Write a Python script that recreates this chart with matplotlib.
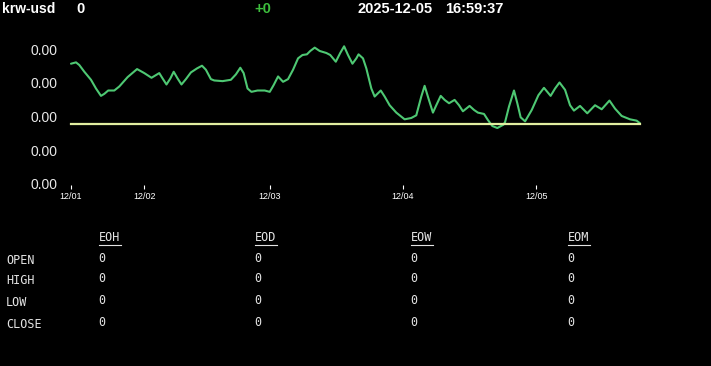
import matplotlib.pyplot as plt
from matplotlib.lines import Line2D

# price history: hours since 12/01 00:00 and krw-usd price (x 1e-6)
hours = [10.8, 11.7, 12.3, 13.2, 14.4, 15.3, 16.2, 16.8, 17.5, 18.6,
         19.5, 21.0, 22.7, 24.0, 25.3, 26.7, 27.3, 28.0, 28.7, 29.3,
         30.0, 30.7, 31.5, 32.4, 33.5, 34.4, 35.1, 36.0, 36.6, 38.1,
         39.6, 40.5, 41.3, 41.9, 42.6, 43.3, 44.4, 45.7, 46.6, 47.3,
         48.1, 49.0, 49.9, 50.8, 51.7, 52.5, 53.3, 53.9, 54.7, 55.6,
         56.8, 57.5, 58.5, 59.3, 60.0, 60.7, 61.5, 62.2, 62.6, 63.4,
         64.0, 64.9, 65.5, 66.6, 67.3, 68.2, 69.4, 70.9, 72.1, 73.0,
         73.9, 74.5, 75.2, 76.0, 76.6, 77.4, 78.1, 78.9, 79.9, 80.7,
         81.4, 82.6, 83.4, 84.1, 85.2, 85.9, 86.7, 87.6, 88.7, 89.0,
         89.7, 90.6, 91.2, 91.8, 92.6, 93.8, 95.0, 96.0, 97.2, 98.0,
         98.8, 99.8, 100.7, 101.4, 102.5, 103.8, 105.2, 106.4, 107.8, 108.8,
         110.0, 111.5, 112.7, 113.3]
prices = [688.7, 688.9, 688.5, 687.5, 686.3, 685.0, 683.9, 684.2, 684.7, 684.7,
          685.3, 686.7, 687.9, 687.3, 686.6, 687.3, 686.5, 685.6, 686.5, 687.5,
          686.5, 685.6, 686.4, 687.4, 688.0, 688.4, 687.8, 686.4, 686.2, 686.1,
          686.3, 687.1, 688.1, 687.3, 685.0, 684.5, 684.7, 684.7, 684.5, 685.5,
          686.8, 686.0, 686.4, 687.8, 689.5, 690.0, 690.1, 690.6, 691.1, 690.6,
          690.3, 690.0, 689.0, 690.3, 691.3, 690.0, 688.7, 689.5, 690.1, 689.5,
          688.0, 685.0, 683.8, 684.7, 683.8, 682.5, 681.4, 680.4, 680.6, 681.0,
          683.8, 685.4, 683.5, 681.4, 682.5, 683.9, 683.3, 682.8, 683.3, 682.5,
          681.6, 682.4, 681.8, 681.4, 681.2, 680.3, 679.4, 679.1, 679.6, 680.0,
          682.3, 684.7, 682.8, 680.7, 680.1, 681.8, 684.0, 685.1, 683.9, 685.0,
          685.9, 684.8, 682.5, 681.7, 682.4, 681.3, 682.5, 681.9, 683.2, 682.0,
          680.9, 680.4, 680.2, 679.8]
prices = [p * 1e-6 for p in prices]
base_price = 679.7e-6

tick_hours = [10.8, 24.0, 46.6, 70.6, 94.6]
tick_labels = ['12/01', '12/02', '12/03', '12/04', '12/05']
y_ticks = [670e-6, 675e-6, 680e-6, 685e-6, 690e-6]

symbol = 'krw-usd'
last = '0'
change = '+0'
date_str = '2025-12-05'
time_str = '16:59:37'

columns = ['EOH', 'EOD', 'EOW', 'EOM']
rows = ['OPEN', 'HIGH', 'LOW', 'CLOSE']
table = [['0', '0', '0', '0'] for _ in rows]

W, H = 711, 366
fig = plt.figure(figsize=(W / 100, H / 100), dpi=100, facecolor='black')

ax = fig.add_axes([71 / W, 1 - 189 / H, 569 / W, 134 / H], facecolor='black')
ax.plot(hours, prices, color='#4ec873', linewidth=1.5, solid_joinstyle='round',
        solid_capstyle='round', clip_on=False)
ax.plot([hours[0], hours[-1]], [base_price, base_price], color='#e2eea0',
        linewidth=1.6, clip_on=False)
ax.set_xlim(hours[0], hours[-1])
ax.set_ylim(y_ticks[0], y_ticks[-1])
for s in ax.spines.values():
    s.set_visible(False)
ax.set_xticks(tick_hours)
ax.set_xticklabels(tick_labels, fontsize=6.5, color='white', family='Liberation Sans')
ax.tick_params(axis='x', direction='in', length=3, width=0.8, color='white', pad=2)
ax.set_yticks(y_ticks)
ax.set_yticklabels(['%.2f' % v for v in y_ticks], fontsize=10, color='#e8e8e8',
                   family='Liberation Sans')
ax.tick_params(axis='y', length=0, pad=10)
for lab in ax.get_yticklabels():
    lab.set_va('baseline')

# header line
hfont = dict(family='Liberation Sans', fontweight='bold', va='center')
fig.text(2 / W, 1 - 9 / H, symbol, color='white', fontsize=10, **hfont)
fig.text(76 / W, 1 - 9 / H, last, color='white', fontsize=10.5, **hfont)
fig.text(254 / W, 1 - 9 / H, change, color='#3dbd3d', fontsize=10.5, **hfont)
fig.text(358 / W, 1 - 9 / H, date_str, color='white', fontsize=10.5, **hfont)
fig.text(445 / W, 1 - 9 / H, time_str, color='white', fontsize=10.5, **hfont)

# summary table
tfont = dict(family='DejaVu Sans Mono', fontsize=8.5, color='#e4e4e4', va='center')
col_x = [98, 254, 410, 567]
row_y = [260, 281, 302, 324]
for cx, name in zip(col_x, columns):
    fig.text((cx + 1) / W, 1 - 238 / H, name, **tfont)
    fig.add_artist(Line2D([(cx + 1) / W, (cx + 23) / W], [1 - 244.5 / H, 1 - 244.5 / H],
                          color='#e4e4e4', linewidth=0.8))
for ry, name, vals in zip(row_y, rows, table):
    fig.text(6 / W, 1 - ry / H, name, **tfont)
    for cx, v in zip(col_x, vals):
        fig.text(cx / W, 1 - (ry - 2) / H, v, **tfont)

fig.savefig('out.png', dpi=100, facecolor='black')
